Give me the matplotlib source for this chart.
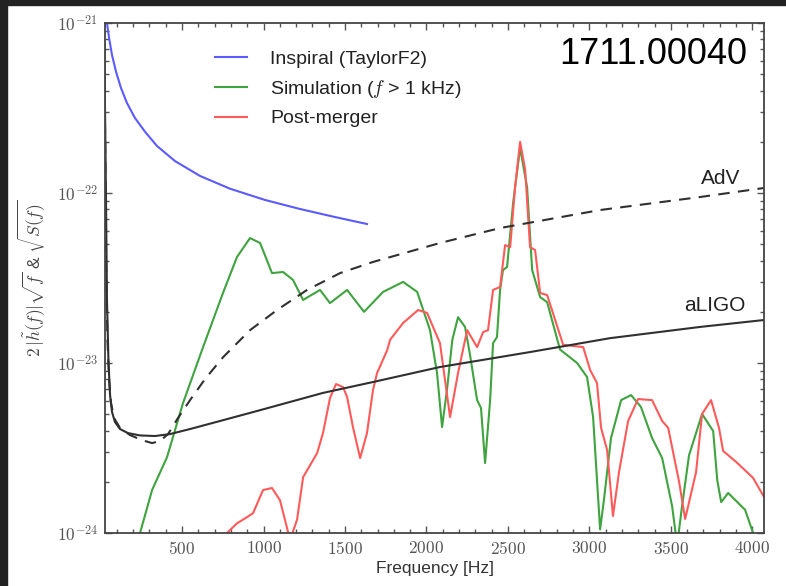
import numpy as np
import matplotlib.pyplot as plt
from matplotlib.ticker import FixedLocator, FuncFormatter, AutoMinorLocator, LogLocator, NullFormatter
from matplotlib.patches import Rectangle

plt.rcParams['mathtext.fontset'] = 'cm'
plt.rcParams['font.family'] = ['Liberation Sans', 'DejaVu Sans']

# amplitudes below are in units of 1e-23
f_insp = [39, 52, 70, 95, 125, 162, 211, 273, 346, 457, 610, 794, 1009, 1224, 1439, 1635]
a_insp = [100, 81.6, 64.8, 51.5, 41.5, 33.8, 27.6, 22.9, 18.9, 15.4, 12.6, 10.6, 9.1, 8.05,
          7.22, 6.57]

f_sim = [211, 242, 316, 408, 506, 629, 751, 837, 917, 979, 1052, 1120, 1181, 1243,
         1347, 1408, 1513, 1617, 1734, 1857, 1943, 2022, 2065, 2096, 2126, 2159,
         2194, 2237, 2268, 2311, 2335, 2360, 2391, 2409, 2433, 2452, 2470, 2495,
         2532, 2575, 2618, 2649, 2698, 2741, 2820, 2925, 2986, 3023, 3042, 3066,
         3090, 3133, 3195, 3256, 3317, 3385, 3447, 3508, 3539, 3569, 3612, 3692,
         3760, 3785, 3809, 3852, 3956, 3999, 4030]
a_sim = [0.069, 0.1, 0.179, 0.28, 0.582, 1.24, 2.58, 4.2, 5.43, 5.08, 3.38, 3.43, 3.08, 2.35,
         2.69, 2.25, 2.69, 2.0, 2.62, 3.0, 2.62, 1.56, 0.873, 0.42, 0.694, 1.37,
         1.86, 1.63, 1.11, 0.605, 0.543, 0.258, 0.605, 1.31, 1.42, 2.69, 3.52, 3.67,
         8.73, 18.4, 10.8, 3.52, 2.44, 2.28, 1.2, 1.0, 0.827, 0.481, 0.245, 0.105,
         0.158, 0.362, 0.605, 0.648, 0.551, 0.362, 0.276, 0.144, 0.085, 0.144, 0.287, 0.501,
         0.398, 0.205, 0.152, 0.172, 0.137, 0.104, 0.085]

f_pm = [746, 776, 837, 899, 936, 997, 1052, 1101, 1163, 1206, 1243, 1329, 1365, 1408,
        1445, 1488, 1513, 1549, 1593, 1635, 1672, 1697, 1759, 1777, 1857, 1949, 2004,
        2083, 2145, 2194, 2250, 2311, 2348, 2378, 2409, 2452, 2483, 2514, 2544, 2575,
        2606, 2636, 2667, 2698, 2741, 2839, 2962, 3005, 3047, 3072, 3109, 3145, 3182,
        3238, 3299, 3385, 3447, 3484, 3551, 3588, 3655, 3692, 3747, 3796, 3821, 3901,
        4005, 4072]
a_pm = [0.085, 0.1, 0.114, 0.124, 0.131, 0.179, 0.184, 0.156, 0.091, 0.12, 0.213, 0.295, 0.387, 0.622,
        0.752, 0.722, 0.631, 0.42, 0.276, 0.387, 0.694, 0.873, 1.19, 1.37, 1.72, 2.05, 1.97,
        1.31, 0.481, 0.873, 1.56, 1.24, 1.52, 1.56, 2.69, 2.8, 4.94, 4.8, 10.8, 20.0,
        13.7, 4.8, 4.62, 2.58, 2.51, 1.28, 1.24, 0.909, 0.763, 0.415, 0.308, 0.126, 0.228,
        0.456, 0.614, 0.605, 0.456, 0.415, 0.2, 0.121, 0.228, 0.501, 0.605, 0.415, 0.304, 0.262,
        0.211, 0.163]

# detector sensitivity curves
f_aligo = [22, 30, 39, 48, 58, 70, 88, 119, 168, 242, 334, 426, 549, 733, 960, 1365, 1672,
           2083, 2636, 3127, 3680, 4072]
a_aligo = [80, 17.9, 2.35, 1.04, 0.648, 0.515, 0.45, 0.409, 0.387, 0.375, 0.372, 0.382, 0.409,
           0.456, 0.522, 0.667, 0.773, 0.947, 1.16, 1.40, 1.63, 1.79]

f_adv = [22, 33, 42, 52, 64, 82, 119, 180, 254, 316, 365, 414, 475, 549, 641, 751, 917, 1083,
         1267, 1470, 1672, 2083, 2452, 3066, 3680, 4072]
a_adv = [100, 4.62, 1.37, 0.794, 0.582, 0.475, 0.415, 0.377, 0.352, 0.338, 0.348, 0.382, 0.475,
         0.605, 0.805, 1.08, 1.56, 2.05, 2.69, 3.38, 3.93, 5.08, 6.22, 7.94, 9.47, 10.7]

unit = 1e-23

fig = plt.figure(figsize=(7.86, 5.86), dpi=100)
ax = fig.add_axes([0.1336, 0.0904, 0.8384, 0.8704])

ax.plot(f_insp, np.array(a_insp) * unit, color='#5a5aff', lw=1.5, label='Inspiral (TaylorF2)')
ax.plot(f_sim, np.array(a_sim) * unit, color='#3fa33f', lw=1.5, label='Simulation ($f$ > 1 kHz)')
ax.plot(f_pm, np.array(a_pm) * unit, color='#ff5a5a', lw=1.5, label='Post-merger')
ax.plot(f_aligo, np.array(a_aligo) * unit, color='#303030', lw=1.5)
ax.plot(f_adv, np.array(a_adv) * unit, color='#303030', lw=1.5, ls=(0, (5.5, 4)))

ax.set_yscale('log')
ax.set_xlim(27, 4072)
ax.set_ylim(1e-24, 1e-21)

ax.xaxis.set_major_locator(FixedLocator([500, 1000, 1500, 2000, 2500, 3000, 3500, 4000]))
ax.xaxis.set_major_formatter(FuncFormatter(lambda v, p: r'$%d$' % v))
ax.xaxis.set_minor_locator(AutoMinorLocator(5))
ax.yaxis.set_major_locator(LogLocator(base=10, numticks=10))
ax.yaxis.set_major_formatter(FuncFormatter(lambda v, p: r'$10^{%d}$' % round(np.log10(v))))
ax.yaxis.set_minor_locator(LogLocator(base=10, subs=np.arange(2, 10), numticks=10))
ax.yaxis.set_minor_formatter(NullFormatter())
ax.tick_params(which='both', direction='in', top=True, right=True, colors='#555555',
               labelsize=12.5, width=1)
ax.tick_params(which='major', length=5, pad=5)
ax.tick_params(which='minor', length=3)
for s in ax.spines.values():
    s.set_color('#444444')
    s.set_linewidth(1.3)

ax.set_xlabel('Frequency [Hz]', fontsize=12.5, color='#333333', labelpad=3)
ax.set_ylabel(r'$2\,|\tilde{h}(f)|\sqrt{f}$ & $\sqrt{S(f)}$', fontsize=12.5, color='#444444',
              labelpad=6)

leg = ax.legend(loc='upper left', bbox_to_anchor=(0.167, 0.947), frameon=False, fontsize=14,
                handlelength=1.65, handletextpad=1.18, labelspacing=0.52, borderpad=0,
                borderaxespad=0)
for t in leg.get_texts():
    t.set_color('#222222')

ax.text(3803, 1.22e-22, 'AdV', fontsize=15, color='#222222', ha='center', va='center')
ax.text(3772, 2.19e-23, 'aLIGO', fontsize=15, color='#222222', ha='center', va='center')
ax.text(0.974, 0.939, '1711.00040', transform=ax.transAxes, fontsize=26, color='black',
        ha='right', va='center')

# dark frame along the top and left edges
fig.patches.append(Rectangle((0, 0.9915), 1, 0.0085, transform=fig.transFigure,
                             color='#222222', zorder=10))
fig.patches.append(Rectangle((0, 0), 0.009, 1, transform=fig.transFigure,
                             color='#222222', zorder=10))

fig.savefig('out.png', dpi=100)
